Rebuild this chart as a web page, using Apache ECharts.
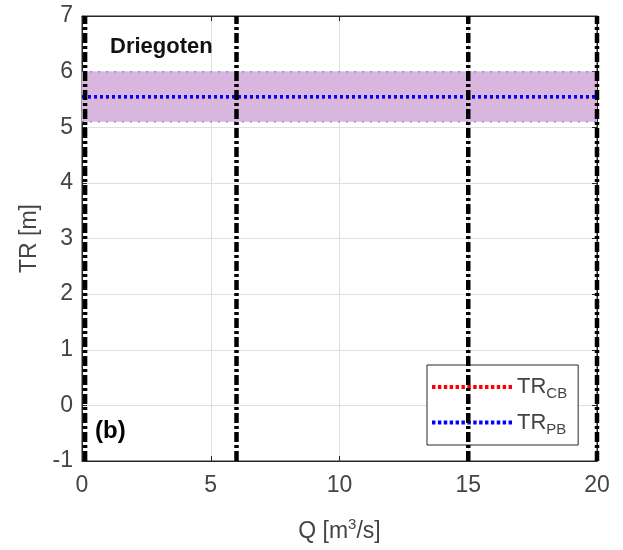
<!DOCTYPE html>
<html><head><meta charset="utf-8">
<script src="https://cdn.jsdelivr.net/npm/echarts@6/dist/echarts.min.js"></script>
<style>html,body{margin:0;padding:0;background:#fff}#c{width:623px;height:550px}</style>
</head><body><div id="c"></div>
<script>
const qRange = [0, 20];
const trRange = [-1, 7];
const xTickStep = 5;
const yTickStep = 1;
const bandLow = 5.1;
const bandHigh = 6.0;
const trCB = 5.55;
const trPB = 5.55;
const verticalQ = [0.12, 6, 15, 20];
const stationLabel = 'Driegoten';
const panelLabel = '(b)';

const FONT = 'Liberation Sans, Arial, sans-serif';
const TXT = '#444';
const chart = echarts.init(document.getElementById('c'));

// dotted legend icon path (80 x 4)
let dots = '';
for (let x = 0; x < 80; x += 6) dots += 'M' + x + ',0h3.5v4h-3.5z';
const dottedIcon = 'path://' + dots;

const series = [];
series.push({type:'line', name:'bandLow', data:[[qRange[0],bandLow],[qRange[1],bandLow]], symbol:'none',
  lineStyle:{color:'rgba(110,110,255,0.7)', width:1.5, type:[2,6]}, z:3, silent:true,
  markArea:{silent:true, itemStyle:{color:'rgb(216,182,222)'}, data:[[{yAxis:bandLow},{yAxis:bandHigh}]]}});
series.push({type:'line', name:'bandHigh', data:[[qRange[0],bandHigh],[qRange[1],bandHigh]], symbol:'none',
  lineStyle:{color:'rgba(110,110,255,0.7)', width:1.5, type:[2,6]}, z:3, silent:true});
series.push({type:'line', name:'TR_CB', data:[[qRange[0],trCB],[qRange[1],trCB]], symbol:'none',
  lineStyle:{color:'#ff0000', width:3.5, type:[3,3]}, itemStyle:{color:'#ff0000'}, z:4});
series.push({type:'line', name:'TR_PB', data:[[qRange[0],trPB],[qRange[1],trPB]], symbol:'none',
  lineStyle:{color:'#0000ff', width:3.5, type:[3,3]}, itemStyle:{color:'#0000ff'}, z:5});
verticalQ.forEach((q,i)=>{
  series.push({type:'line', name:'v'+i, data:[[q,trRange[0]],[q,trRange[1]]], symbol:'none', clip:false,
    lineStyle:{color:'#000', width:4.5, type:[10,3,3,3]}, z:6, silent:true});
});

chart.setOption({
  animation:false,
  textStyle:{fontFamily:FONT},
  grid:{left:82, top:16, right:26, bottom:89, show:true, borderColor:'#262626', borderWidth:1, backgroundColor:'transparent'},
  xAxis:[{type:'value', min:qRange[0], max:qRange[1], interval:xTickStep,
    axisLine:{onZero:false, lineStyle:{color:'#262626'}}, axisTick:{inside:true, length:5, lineStyle:{color:'#262626'}},
    axisLabel:{color:TXT, fontSize:23, margin:13, fontFamily:FONT},
    splitLine:{show:true, lineStyle:{color:'#dedede'}},
    name:'Q [m{sup|3}/s]', nameLocation:'middle', nameGap:56,
    nameTextStyle:{color:TXT, fontSize:23, fontFamily:FONT, rich:{sup:{fontSize:15, verticalAlign:'top', padding:[0,0,14,0], color:TXT, fontFamily:FONT}}}},
    {type:'value', position:'top', min:qRange[0], max:qRange[1], interval:xTickStep,
    axisLine:{show:true, onZero:false, lineStyle:{color:'#262626'}}, axisTick:{inside:true, length:5, lineStyle:{color:'#262626'}},
    axisLabel:{show:false}, splitLine:{show:false}}],
  yAxis:[{type:'value', min:trRange[0], max:trRange[1], interval:yTickStep,
    axisLine:{show:true, onZero:false, lineStyle:{color:'#262626'}}, axisTick:{show:true, inside:true, length:5, lineStyle:{color:'#262626'}},
    axisLabel:{color:TXT, fontSize:23, margin:9, fontFamily:FONT},
    splitLine:{show:true, lineStyle:{color:'#dedede'}},
    name:'TR [m]', nameLocation:'middle', nameGap:41, nameRotate:90,
    nameTextStyle:{color:TXT, fontSize:23, fontFamily:FONT}},
    {type:'value', position:'right', min:trRange[0], max:trRange[1], interval:yTickStep,
    axisLine:{show:true, onZero:false, lineStyle:{color:'#262626'}}, axisTick:{show:true, inside:true, length:5, lineStyle:{color:'#262626'}},
    axisLabel:{show:false}, splitLine:{show:false}}],
  legend:{data:[{name:'TR_CB', icon:dottedIcon},{name:'TR_PB', icon:dottedIcon}], orient:'vertical', left:427, top:365,
    backgroundColor:'#fff', borderColor:'#262626', borderWidth:1, padding:[11,11,8,5], itemGap:10,
    itemWidth:80, itemHeight:4,
    formatter:n=> n==='TR_CB' ? '{m|TR}{s|CB}' : '{m|TR}{s|PB}',
    textStyle:{color:TXT, rich:{m:{fontSize:22, color:TXT, fontFamily:FONT}, s:{fontSize:15, color:TXT, fontFamily:FONT, padding:[14,0,0,0]}}}},
  graphic:[
    {type:'text', left:110, top:36, style:{text:stationLabel, font:'bold 22px Liberation Sans, Arial', fill:'#111'}, z:100},
    {type:'text', left:95, top:419, style:{text:panelLabel, font:'bold 24px Liberation Sans, Arial', fill:'#000'}, z:100}
  ],
  series
});
</script></body></html>
